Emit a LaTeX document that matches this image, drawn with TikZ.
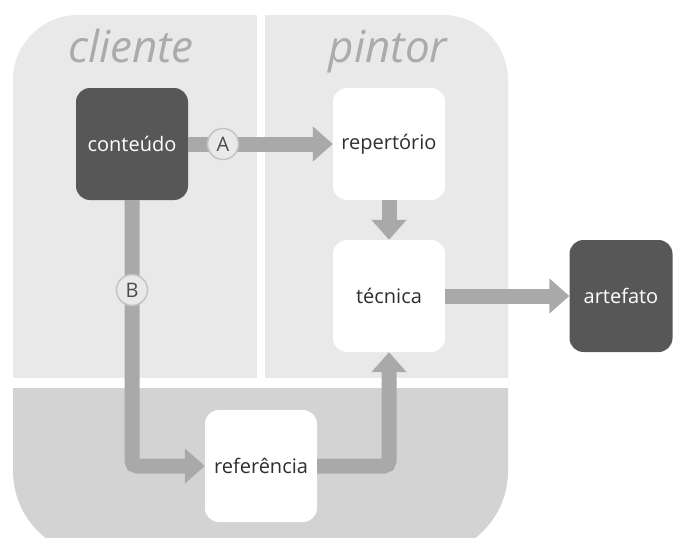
\documentclass[tikz,border=0pt]{standalone}
\usepackage{fontspec}
\setmainfont{Open Sans}
\usetikzlibrary{arrows.meta}

\definecolor{fundoclaro}{HTML}{E9E9E9}
\definecolor{fundoescuro}{HTML}{D3D3D3}
\definecolor{caixaescura}{HTML}{575757}
\definecolor{cinzaseta}{HTML}{A9A9A9}
\definecolor{cinzatitulo}{HTML}{ABABAB}
\definecolor{cinzatexto}{HTML}{2E2E2E}

\tikzset{
	caixa/.style={minimum width=112pt, minimum height=112pt, rounded corners=14pt, inner sep=0pt,
		fill=white, text=cinzatexto, font=\fontsize{20}{24}\selectfont},
	caixaesc/.style={caixa, fill=caixaescura, text=white},
	fluxo/.style={draw=cinzaseta, line width=15pt, -{Triangle[length=20pt,width=34pt]}},
	marca/.style={circle, minimum size=31pt, inner sep=0pt, fill=fundoclaro, draw=cinzaseta!70,
		line width=1.5pt, text=cinzatexto!85, font=\fontsize{20}{24}\selectfont},
	titulo/.style={text=cinzatitulo, font=\fontsize{44}{48}\selectfont\itshape}
}

\begin{document}
\begin{tikzpicture}[x=1pt,y=-1pt]
		%\draw[help lines] (0,0) grid (673,538);
		\useasboundingbox (0,0) rectangle (673,538);
		% fundo
		\begin{scope}
			\clip (13,300) [rounded corners=65pt] -- (13,15) -- (508,15) -- (508,300)
				[rounded corners=85pt] -- (508,556) -- (13,556) -- cycle;
			\fill[fundoclaro] (0,0) rectangle (673,388);
			\fill[fundoescuro] (0,388) rectangle (673,560);
			\fill[white] (0,378) rectangle (673,388);
			\fill[white] (257,0) rectangle (265,378);
		\end{scope}
		\node[titulo, anchor=base] (cliente) at (131,63) {cliente};
		\node[titulo, anchor=base] (pintor) at (388,63) {pintor};

		\node[caixaesc] (conteudo) at (132,144) {conteúdo};
		\node[caixa] (repertorio) at (389,144) {repertório};
		\node[caixa] (tecnica) at (389,296) {técnica};
		\node[caixa] (referencia) at (261,466) {referência};
		\node[caixaesc, minimum width=103pt] (artefato) at (621,296) {artefato};

		\draw[fluxo] (conteudo) -- (repertorio);
		\draw[fluxo] (repertorio) -- (tecnica);
		\draw[fluxo, rounded corners=5pt] (conteudo.south) |- (referencia.west);
		\draw[fluxo, rounded corners=5pt] (referencia.east) -| (tecnica.south);
		\draw[fluxo] (tecnica) -- (artefato);

		\node[marca] (marcaA) at (223,144) {A};
		\node[marca] (marcaB) at (132,290) {B};
\end{tikzpicture}
\end{document}
